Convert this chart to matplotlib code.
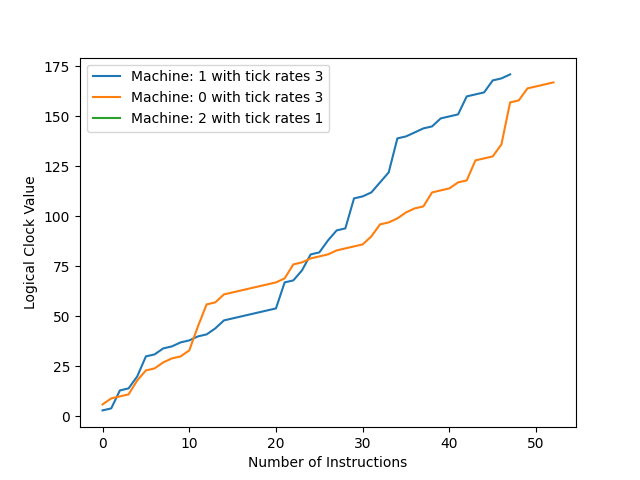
import matplotlib
matplotlib.use("Agg")
import matplotlib.pyplot as plt

# logical clock values per instruction
clock_m1 = [3, 4, 13, 14, 20, 30, 31, 34, 35, 37, 38, 40, 41, 44, 48,
            49, 50, 51, 52, 53, 54, 67, 68, 73, 81, 82, 88, 93, 94, 109,
            110, 112, 117, 122, 139, 140, 142, 144, 145, 149, 150, 151, 160,
            161, 162, 168, 169, 171]
clock_m0 = [6, 9, 10, 11, 18, 23, 24, 27, 29, 30, 33, 45, 56, 57, 61,
            62, 63, 64, 65, 66, 67, 69, 76, 77, 79, 80, 81, 83, 84, 85,
            86, 90, 96, 97, 99, 102, 104, 105, 112, 113, 114, 117, 118,
            128, 129, 130, 136, 157, 158, 164, 165, 166, 167]
clock_m2 = []  # no values recorded for machine 2

labels = ["Machine: 1 with tick rates 3",
          "Machine: 0 with tick rates 3",
          "Machine: 2 with tick rates 1"]

fig, ax = plt.subplots(figsize=(6.4, 4.8), dpi=100)
for vals, lab in zip([clock_m1, clock_m0, clock_m2], labels):
    ax.plot(range(len(vals)), vals, label=lab)

ax.set_xlabel("Number of Instructions")
ax.set_ylabel("Logical Clock Value")
ax.legend(loc="upper left")
fig.savefig("out.png")
